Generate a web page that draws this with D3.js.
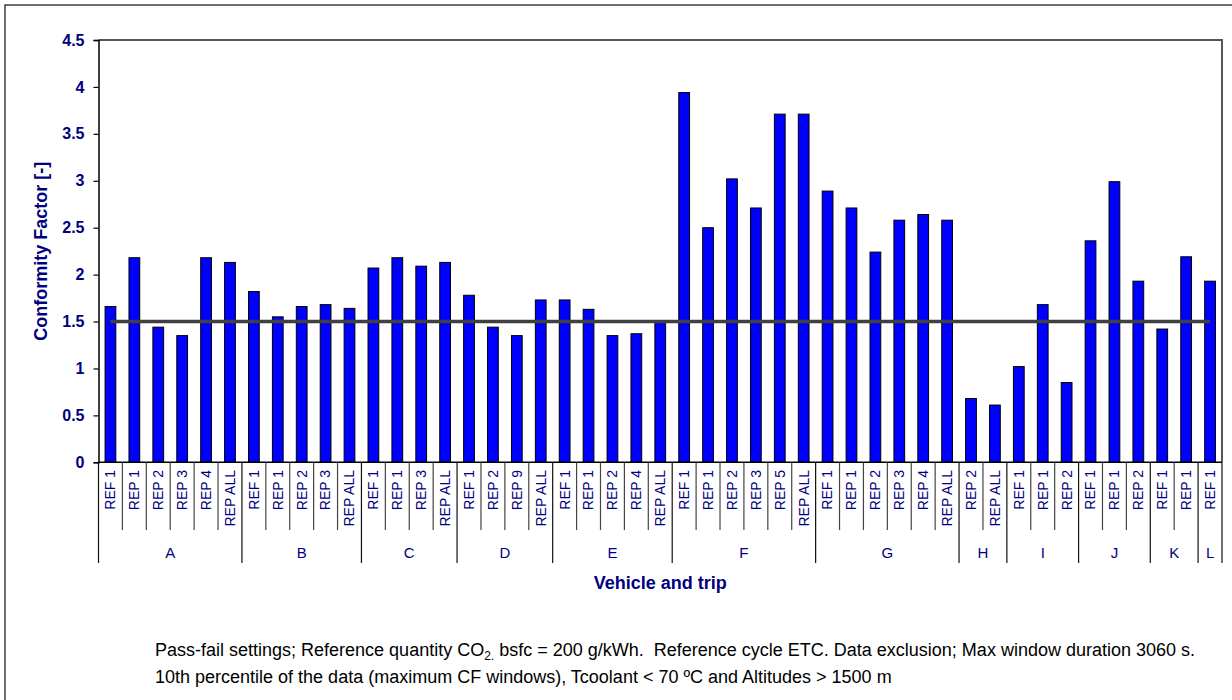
<!DOCTYPE html>
<html>
<head>
<meta charset="utf-8">
<script src="https://cdn.jsdelivr.net/npm/d3@7"></script>
<style>
  html, body { margin: 0; padding: 0; background: #fff; }
  svg { display: block; font-family: "Liberation Sans", Arial, sans-serif; }
</style>
</head>
<body>
<svg id="chart" width="1232" height="700"></svg>
<script>
// ---- data ----
const vehicles = ["A","A","A","A","A","A","B","B","B","B","B","C","C","C","C","D","D","D","D","E","E","E","E","E","F","F","F","F","F","F","G","G","G","G","G","G","H","H","I","I","I","J","J","J","K","K","L"];
const trips = ["REF 1","REP 1","REP 2","REP 3","REP 4","REP ALL",
               "REF 1","REP 1","REP 2","REP 3","REP ALL",
               "REF 1","REP 1","REP 3","REP ALL",
               "REF 1","REP 2","REP 9","REP ALL",
               "REF 1","REP 1","REP 2","REP 4","REP ALL",
               "REF 1","REP 1","REP 2","REP 3","REP 5","REP ALL",
               "REF 1","REP 1","REP 2","REP 3","REP 4","REP ALL",
               "REP 2","REP ALL",
               "REF 1","REP 1","REP 2",
               "REF 1","REP 1","REP 2",
               "REF 1","REP 1",
               "REF 1"];
const cfValues = [1.66,2.18,1.44,1.35,2.18,2.13,
                  1.82,1.55,1.66,1.68,1.64,
                  2.07,2.18,2.09,2.13,
                  1.78,1.44,1.35,1.73,
                  1.73,1.63,1.35,1.37,1.49,
                  3.94,2.50,3.02,2.71,3.71,3.71,
                  2.89,2.71,2.24,2.58,2.64,2.58,
                  0.68,0.61,
                  1.02,1.68,0.85,
                  2.36,2.99,1.93,
                  1.42,2.19,
                  1.93];
const limitValue = 1.5;
const yTicks = [0,0.5,1,1.5,2,2.5,3,3.5,4,4.5];
const yTitle = "Conformity Factor [-]";
const xTitle = "Vehicle and trip";
const noteLine1a = "Pass-fail settings; Reference quantity CO";
const noteLine1sub = "2.";
const noteLine1b = " bsfc = 200 g/kWh.\u00A0 Reference cycle ETC. Data exclusion; Max window duration 3060 s.";
const noteLine2 = "10th percentile of the data (maximum CF windows), Tcoolant < 70 \u00BAC and Altitudes > 1500 m";

// ---- layout ----
const navy = "#000080";
const plot = {left: 98.5, right: 1222, top: 40, bottom: 462.3};
const svg = d3.select("#chart");

// outer frame
svg.append("rect").attr("x", 5).attr("y", 5).attr("width", 1300).attr("height", 800)
  .attr("fill", "none").attr("stroke", "#404040").attr("stroke-width", 1.5);

const n = cfValues.length;
const x = d3.scaleBand().domain(d3.range(n)).range([plot.left, plot.right]).padding(0);
const y = d3.scaleLinear().domain([0, 4.5]).range([plot.bottom, plot.top]);
const bw = x.bandwidth();
const barW = bw * 0.45;

// plot frame (top + right)
svg.append("path")
  .attr("d", `M${plot.left},${plot.top}H${plot.right}V${plot.bottom}`)
  .attr("fill", "none").attr("stroke", "#555").attr("stroke-width", 2);

// bars
svg.append("g").selectAll("rect").data(cfValues).join("rect")
  .attr("x", (d, i) => x(i) + (bw - barW) / 2)
  .attr("y", d => y(d))
  .attr("width", barW)
  .attr("height", d => y(0) - y(d))
  .attr("fill", "#0000FF")
  .attr("stroke", "#000")
  .attr("stroke-width", 1);

// limit line (from first to last bar centre)
svg.append("line")
  .attr("x1", x(0) + bw / 2).attr("x2", x(n - 1) + bw / 2)
  .attr("y1", y(limitValue)).attr("y2", y(limitValue))
  .attr("stroke", "#404040").attr("stroke-width", 3.5);

// y axis
const yAxis = svg.append("g").attr("transform", `translate(${plot.left},0)`)
  .call(d3.axisLeft(y).tickValues(yTicks).tickSize(5).tickPadding(9).tickFormat(d => String(d)));
yAxis.select(".domain").attr("stroke", "#000").attr("stroke-width", 1.5);
yAxis.selectAll(".tick line").attr("stroke", "#000").attr("stroke-width", 1.2);
yAxis.selectAll(".tick text").attr("fill", navy).attr("font-size", 16).attr("font-weight", "bold")
  .attr("font-family", "Liberation Sans, Arial, sans-serif");

// x axis baseline
svg.append("line").attr("x1", plot.left).attr("x2", plot.right)
  .attr("y1", plot.bottom).attr("y2", plot.bottom)
  .attr("stroke", "#000").attr("stroke-width", 1.5);

// separators
const sep = svg.append("g");
for (let k = 0; k <= n; k++) {
  const xp = k < n ? x(k) : plot.right;
  const isGroup = k === 0 || k === n || vehicles[k] !== vehicles[k - 1];
  sep.append("line")
    .attr("x1", xp).attr("x2", xp)
    .attr("y1", plot.bottom).attr("y2", isGroup ? 563 : 530)
    .attr("stroke", isGroup ? "#111" : "#444").attr("stroke-width", 1.2);
}

// trip labels
svg.append("g").selectAll("text").data(trips).join("text")
  .attr("transform", (d, i) => `translate(${x(i) + bw / 2},470) rotate(-90)`)
  .attr("text-anchor", "end")
  .attr("dy", "0.35em")
  .attr("fill", navy)
  .attr("font-size", 14)
  .text(d => d);

// group labels
const groupNames = Array.from(new Set(vehicles));
groupNames.forEach(g => {
  const idx = vehicles.map((v, i) => v === g ? i : -1).filter(i => i >= 0);
  const x0 = x(idx[0]);
  const x1 = x(idx[idx.length - 1]) + bw;
  svg.append("text")
    .attr("x", (x0 + x1) / 2).attr("y", 558)
    .attr("text-anchor", "middle")
    .attr("fill", navy).attr("font-size", 15)
    .text(g);
});

// axis titles
svg.append("text")
  .attr("transform", `translate(47,${(plot.top + plot.bottom) / 2}) rotate(-90)`)
  .attr("text-anchor", "middle")
  .attr("fill", navy).attr("font-size", 18).attr("font-weight", "bold")
  .text(yTitle);
svg.append("text")
  .attr("x", (plot.left + plot.right) / 2).attr("y", 589)
  .attr("text-anchor", "middle")
  .attr("fill", navy).attr("font-size", 18).attr("font-weight", "bold")
  .text(xTitle);

// footnote
const note1 = svg.append("text").attr("x", 155).attr("y", 656)
  .attr("fill", "#000").attr("font-size", 18).attr("xml:space", "preserve");
note1.append("tspan").text(noteLine1a);
note1.append("tspan").attr("font-size", 12).attr("dy", 4).text(noteLine1sub);
note1.append("tspan").attr("dy", -4).text(noteLine1b);
svg.append("text").attr("x", 155).attr("y", 683)
  .attr("fill", "#000").attr("font-size", 18)
  .text(noteLine2);
</script>
</body>
</html>
